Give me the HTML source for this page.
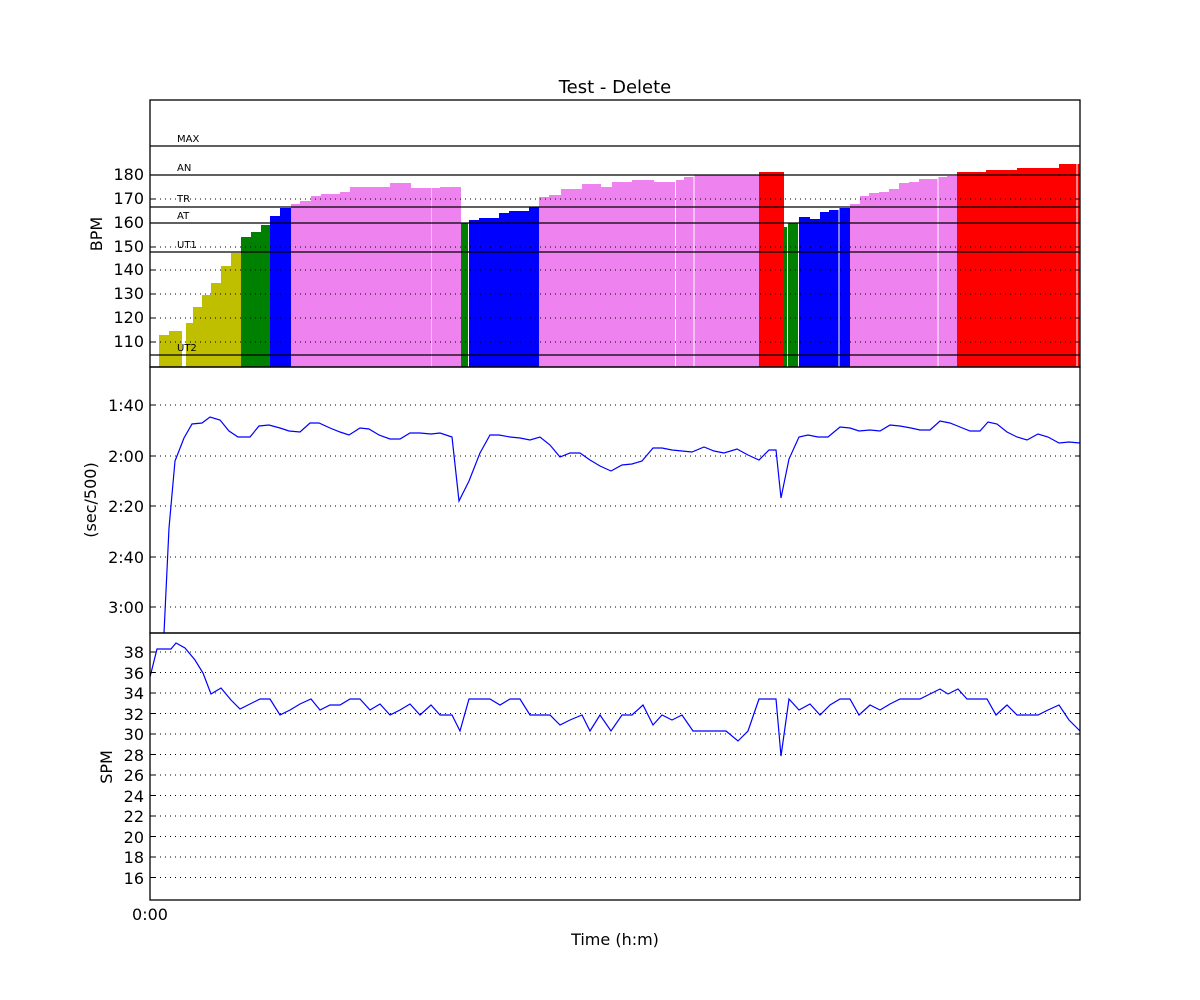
<!DOCTYPE html>
<html><head><meta charset="utf-8"><style>body{margin:0;background:#fff}svg{display:block}text{font-family:"DejaVu Sans","Liberation Sans",sans-serif}</style></head>
<body>
<svg id="s" width="1200" height="1000" xmlns="http://www.w3.org/2000/svg">
<rect width="1200" height="1000" fill="#fff"/>
<g id="bars"></g>
<g id="grid" stroke="#000" stroke-width="1" stroke-dasharray="1,4"></g>
<g id="zones" stroke="#000" stroke-width="1.3"></g>
<polyline id="pace" fill="none" stroke="#0000ff" stroke-width="1.2"/>
<polyline id="spm" fill="none" stroke="#0000ff" stroke-width="1.2"/>
<g id="ticks" stroke="#000" stroke-width="1"></g>
<g fill="none" stroke="#000" stroke-width="1.3">
<rect x="150" y="100" width="930" height="267"/>
<rect x="150" y="367" width="930" height="266"/>
<rect x="150" y="633" width="930" height="267"/>
</g>
<text x="615" y="93" font-size="18" text-anchor="middle">Test - Delete</text>
<g font-size="10">
<text x="177" y="142">MAX</text><text x="177" y="171">AN</text><text x="177" y="202">TR</text>
<text x="177" y="219">AT</text><text x="177" y="248">UT1</text><text x="177" y="351">UT2</text>
</g>
<g font-size="16" text-anchor="end">
<text x="144" y="180">180</text><text x="144" y="204">170</text><text x="144" y="228">160</text><text x="144" y="252">150</text>
<text x="144" y="275">140</text><text x="144" y="299">130</text><text x="144" y="323">120</text><text x="144" y="347">110</text>
<text x="144" y="411">1:40</text><text x="144" y="462">2:00</text><text x="144" y="512">2:20</text><text x="144" y="563">2:40</text><text x="144" y="613">3:00</text>
</g>
<g font-size="16" text-anchor="end" id="spml">
<text x="144" y="658">38</text><text x="144" y="679">36</text><text x="144" y="699">34</text><text x="144" y="720">32</text>
<text x="144" y="740">30</text><text x="144" y="761">28</text><text x="144" y="781">26</text><text x="144" y="802">24</text>
<text x="144" y="822">22</text><text x="144" y="843">20</text><text x="144" y="863">18</text><text x="144" y="884">16</text>
</g>
<text x="150" y="920" font-size="16" text-anchor="middle">0:00</text>
<text x="615" y="945" font-size="16" text-anchor="middle">Time (h:m)</text>
<text transform="translate(102,234) rotate(-90)" font-size="16" text-anchor="middle">BPM</text>
<text transform="translate(96,500) rotate(-90)" font-size="16" text-anchor="middle">(sec/500)</text>
<text transform="translate(112,767) rotate(-90)" font-size="16" text-anchor="middle">SPM</text>
</svg>
<script>
var NS="http://www.w3.org/2000/svg";
function el(p,t,a){var e=document.createElementNS(NS,t);for(var k in a)e.setAttribute(k,a[k]);document.getElementById(p).appendChild(e);}
var Y="#bfbf00",G="#008000",B="#0000ff",V="#ee82ee",R="#ff0000";
var bars=[[159,169,335,Y],[169,182,331,Y],[186,193,323,Y],[193,202,307,Y],[202,211,295,Y],[211,221,283,Y],[221,231,266,Y],[231,241,253,Y],
[241,251,237,G],[251,261,232,G],[261,270,225,G],[270,280,216,B],[280,291,208,B],
[291,300,204,V],[300,311,201,V],[311,321,196,V],[321,340,194,V],[340,350,192,V],[350,390,187,V],[390,411,183,V],[411,431.5,188,V],[432,440,188,V],[440,450,187,V],[450,461,187,V],
[461,468,223,G],[469,479,220,B],[479,499,218,B],[499,509,213,B],[509,529,211,B],[529,539,207,B],
[539,549,197,V],[549,561,195,V],[561,582,189,V],[582,601,184,V],[601,612,187,V],[612,632,182,V],[632,654,180,V],[654,675,182,V],[676,684,180,V],[684,693.5,177,V],[694.5,759,175,V],
[759,784,172,R],[784,787,227,G],[788,798,223,G],[799,810,217,B],[810,820,219,B],[820,829,212,B],[829,838.5,210,B],[839.5,850,208,B],
[850,860,204,V],[860,869,196,V],[869,879,193,V],[879,889,192,V],[889,899,189,V],[899,909,183,V],[909,919,182,V],[919,937.5,179,V],[938.5,947,177,V],[947,957,176,V],
[957,986,172,R],[986,1017,170,R],[1017,1059,168,R],[1059,1076.5,164,R],[1077.5,1080,164,R]];
bars.forEach(function(b){el("bars","rect",{x:b[0],y:b[2],width:b[1]-b[0],height:367-b[2],fill:b[3]});});
[342,318,294,270,247,223,199,175].forEach(function(y){el("grid","line",{x1:150,x2:1080,y1:y,y2:y});el("ticks","line",{x1:150,x2:155,y1:y,y2:y});el("ticks","line",{x1:1075,x2:1080,y1:y,y2:y});});
[405,456,506,557,607].forEach(function(y){el("grid","line",{x1:150,x2:1080,y1:y,y2:y});el("ticks","line",{x1:150,x2:155,y1:y,y2:y});el("ticks","line",{x1:1075,x2:1080,y1:y,y2:y});});
for(var i=0;i<12;i++){var y=652+i*20.5;el("grid","line",{x1:150,x2:1080,y1:y,y2:y});el("ticks","line",{x1:150,x2:155,y1:y,y2:y});el("ticks","line",{x1:1075,x2:1080,y1:y,y2:y});}
[146,175,207,223,252,355].forEach(function(y){el("zones","line",{x1:150,x2:1080,y1:y,y2:y});});
document.getElementById("pace").setAttribute("points","164,633 169,528 175,461 184,438 192,424 202,423 210,417 220,420 229,431 238,437 250,437 259,426 269,425 280,428 289,431 300,432 310,423 319,423 330,428 340,432 349,435 360,428 369,429 379,435 390,439 400,439 410,433 420,433 431,434 440,433 452,437 459,501 469,481 480,453 490,435 499,435 510,437 520,438 530,440 540,437 550,445 560,457 570,453 580,453 590,460 600,466 611,471 622,465 632,464 642,461 653,448 662,448 672,450 682,451 692,452 704,447 714,451 724,453 737,449 748,455 759,460 769,450 776,450 781,498 789,459 799,437 808,435 818,437 828,437 840,427 850,428 859,431 870,430 880,431 890,425 900,426 911,428 920,430 930,430 940,421 950,423 960,427 970,431 980,431 988,422 997,424 1007,432 1017,437 1027,440 1038,434 1048,437 1059,443 1069,442 1080,443");
document.getElementById("spm").setAttribute("points","150,677 157,649 171,649 176,643 185,648 195,660 203,673 211,694 221,688 231,700 240,709 250,704 260,699 270,699 280,715 290,710 300,704 311,699 320,710 330,705 340,705 350,699 360,699 370,710 380,704 390,715 400,710 410,704 420,715 431,705 440,715 452,715 460,731 469,699 480,699 490,699 500,705 510,699 520,699 530,715 540,715 550,715 560,725 570,720 582,715 590,731 600,715 611,731 622,715 632,715 643,705 653,725 662,715 672,720 682,715 693,731 704,731 714,731 726,731 738,741 748,731 759,699 769,699 776,699 781,756 789,699 799,710 810,704 820,715 830,705 840,699 850,699 859,715 870,705 880,710 890,704 900,699 911,699 920,699 930,694 940,689 948,694 958,689 967,699 977,699 987,699 996,715 1007,705 1017,715 1027,715 1038,715 1048,710 1059,705 1069,720 1080,731");
</script>
</body></html>
